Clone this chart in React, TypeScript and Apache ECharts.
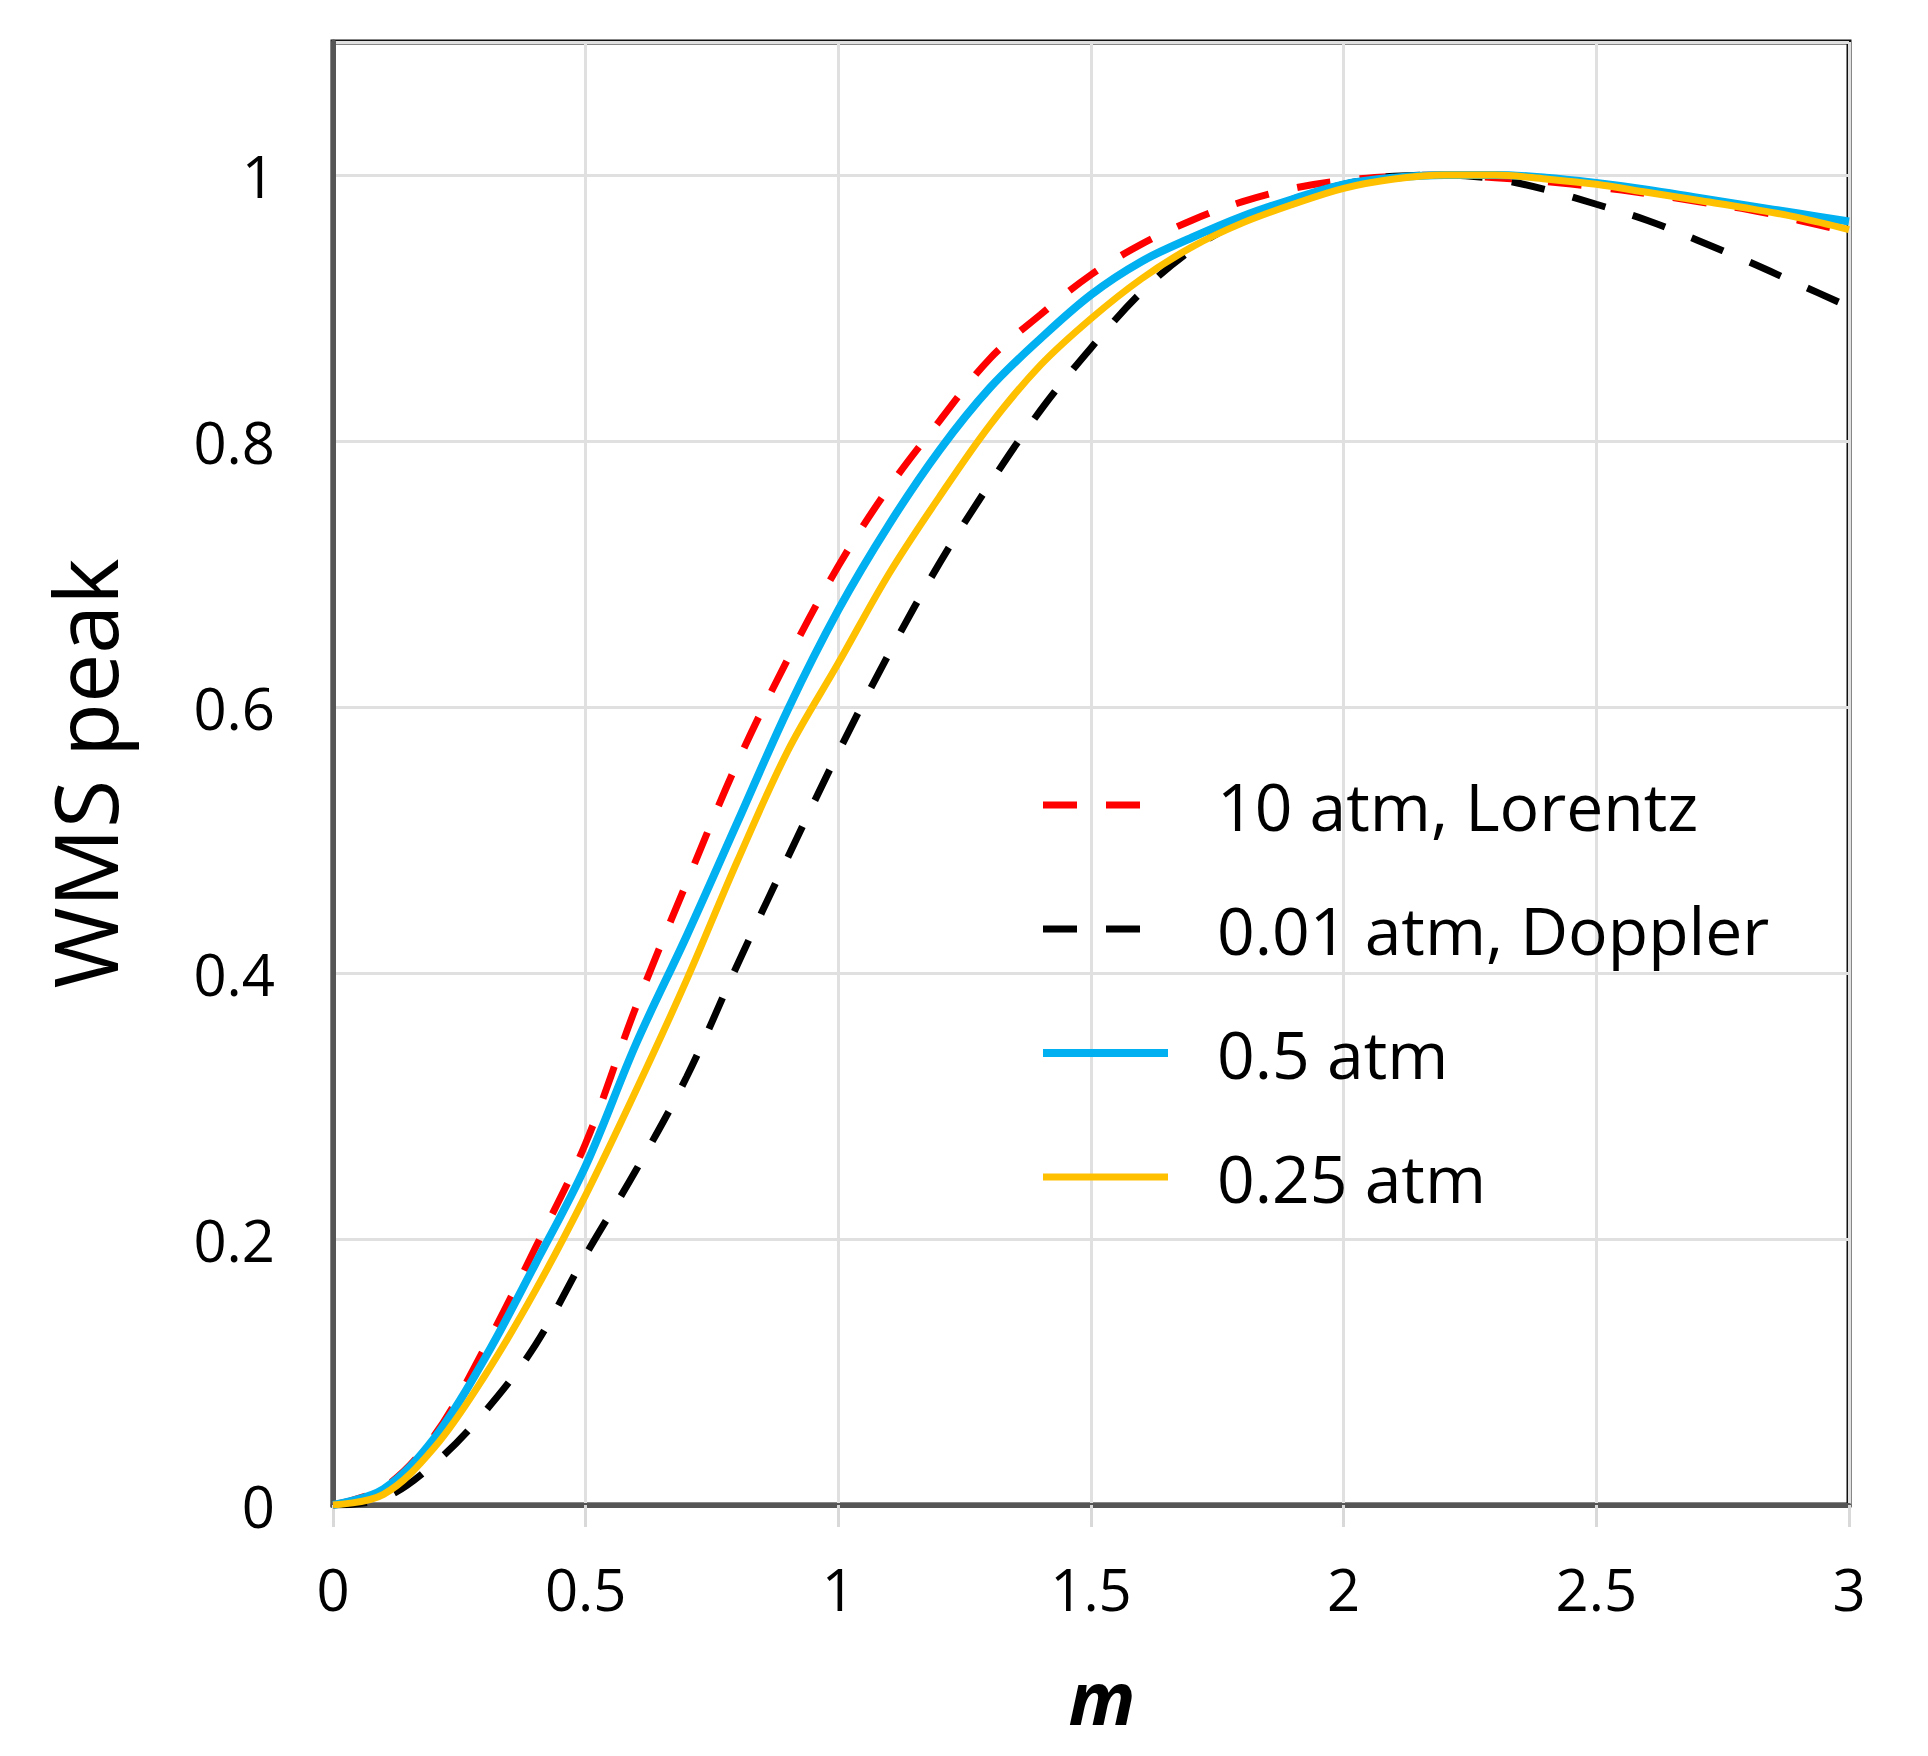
import React, { useEffect, useRef } from "react";
import * as echarts from "echarts";

const mValues = [0, 0.1, 0.2, 0.3, 0.4, 0.5, 0.6, 0.7, 0.8, 0.9, 1.0, 1.1, 1.2, 1.3, 1.4, 1.5, 1.6, 1.7, 1.8, 1.9, 2.0, 2.1, 2.2, 2.3, 2.4, 2.5, 2.6, 2.7, 2.8, 2.9, 3.0];

const lorentz10 = [0, 0.013, 0.052, 0.118, 0.193, 0.272, 0.375, 0.468, 0.558, 0.636, 0.706, 0.765, 0.815, 0.862, 0.895, 0.925, 0.948, 0.966, 0.98, 0.99, 0.996, 0.999, 1.0, 0.998, 0.995, 0.991, 0.986, 0.98, 0.974, 0.966, 0.957];
const doppler001 = [0, 0.005, 0.031, 0.07, 0.12, 0.188, 0.252, 0.322, 0.406, 0.487, 0.566, 0.64, 0.708, 0.768, 0.823, 0.87, 0.912, 0.944, 0.966, 0.982, 0.993, 0.999, 1.0, 0.997, 0.989, 0.978, 0.966, 0.951, 0.935, 0.918, 0.901];
const atm05 = [0, 0.012, 0.05, 0.11, 0.181, 0.255, 0.347, 0.428, 0.513, 0.598, 0.673, 0.737, 0.793, 0.84, 0.877, 0.91, 0.935, 0.953, 0.969, 0.982, 0.993, 0.998, 1.0, 1.0, 0.998, 0.994, 0.989, 0.983, 0.977, 0.971, 0.965];
const atm025 = [0, 0.008, 0.043, 0.097, 0.161, 0.233, 0.312, 0.395, 0.484, 0.567, 0.633, 0.7, 0.758, 0.812, 0.857, 0.892, 0.922, 0.946, 0.964, 0.978, 0.99, 0.997, 1.0, 1.0, 0.997, 0.993, 0.987, 0.981, 0.975, 0.968, 0.959];

const seriesNames = ["10 atm, Lorentz", "0.01 atm, Doppler", "0.5 atm", "0.25 atm"];
const seriesColors = ["#FF0000", "#000000", "#00B0F0", "#FFC000"];

const pairs = (vals: number[]) => mValues.map((m, i) => [m, vals[i]]);

export default function App() {
  const ref = useRef<HTMLDivElement>(null);
  useEffect(() => {
    document.body.style.margin = "0";
    if (!ref.current) return;
    const chart = echarts.init(ref.current, undefined, { renderer: "svg" });
    const tickFont = "Open Sans";
    const dash = [34, 29];
    const allData = [lorentz10, doppler001, atm05, atm025];
    const widths = [7, 7, 8, 7];
    const types: any[] = [dash, dash, "solid", "solid"];
    chart.setOption({
      animation: false,
      backgroundColor: "#ffffff",
      grid: {
        left: 333,
        right: 79,
        top: 42,
        bottom: 251,
        show: true,
        borderColor: "#111111",
        borderWidth: 5,
        backgroundColor: "transparent",
      },
      legend: {
        orient: "vertical",
        left: 1039,
        top: 772,
        padding: 0,
        itemWidth: 125,
        itemHeight: 66,
        itemGap: 58,
        data: seriesNames,
        itemStyle: { opacity: 0 },
        lineStyle: { width: "inherit", type: "inherit" },
        textStyle: {
          fontFamily: tickFont,
          fontSize: 66,
          lineHeight: 66,
          color: "#000000",
          padding: [0, 0, 0, 44],
        },
      },
      xAxis: {
        type: "value",
        min: 0,
        max: 3,
        interval: 0.5,
        name: "m",
        nameLocation: "middle",
        nameGap: 154,
        nameTextStyle: {
          fontFamily: tickFont,
          fontSize: 74,
          fontWeight: "bold",
          fontStyle: "italic",
          color: "#000000",
          padding: [0, 0, 0, 22],
        },
        axisLine: { show: true, onZero: false, lineStyle: { color: "#555555", width: 5 } },
        axisTick: { show: true, length: 22, lineStyle: { color: "#d9d9d9", width: 3 } },
        axisLabel: {
          fontFamily: tickFont,
          fontSize: 58,
          color: "#000000",
          margin: 54,
        },
        splitLine: { show: true, lineStyle: { color: "#e0e0e0", width: 3 } },
      },
      yAxis: {
        type: "value",
        min: 0,
        max: 1.1,
        interval: 0.2,
        name: "WMS peak",
        nameLocation: "middle",
        nameGap: 205,
        nameTextStyle: {
          fontFamily: tickFont,
          fontSize: 88,
          color: "#000000",
        },
        axisLine: { show: true, onZero: false, lineStyle: { color: "#555555", width: 5 } },
        axisTick: { show: false },
        axisLabel: {
          fontFamily: tickFont,
          fontSize: 58,
          color: "#000000",
          margin: 58,
          showMaxLabel: false,
        },
        splitLine: { show: true, lineStyle: { color: "#e0e0e0", width: 3 } },
      },
      series: seriesNames.map((name, i) => ({
        name,
        type: "line",
        data: pairs(allData[i]),
        showSymbol: false,
        symbol: "none",
        smooth: 0.35,
        z: 3 + i,
        lineStyle: { color: seriesColors[i], width: widths[i], type: types[i] },
        itemStyle: { color: seriesColors[i] },
      })),
    });
    return () => chart.dispose();
  }, []);
  return <div ref={ref} style={{ width: 1928, height: 1756 }} />;
}
